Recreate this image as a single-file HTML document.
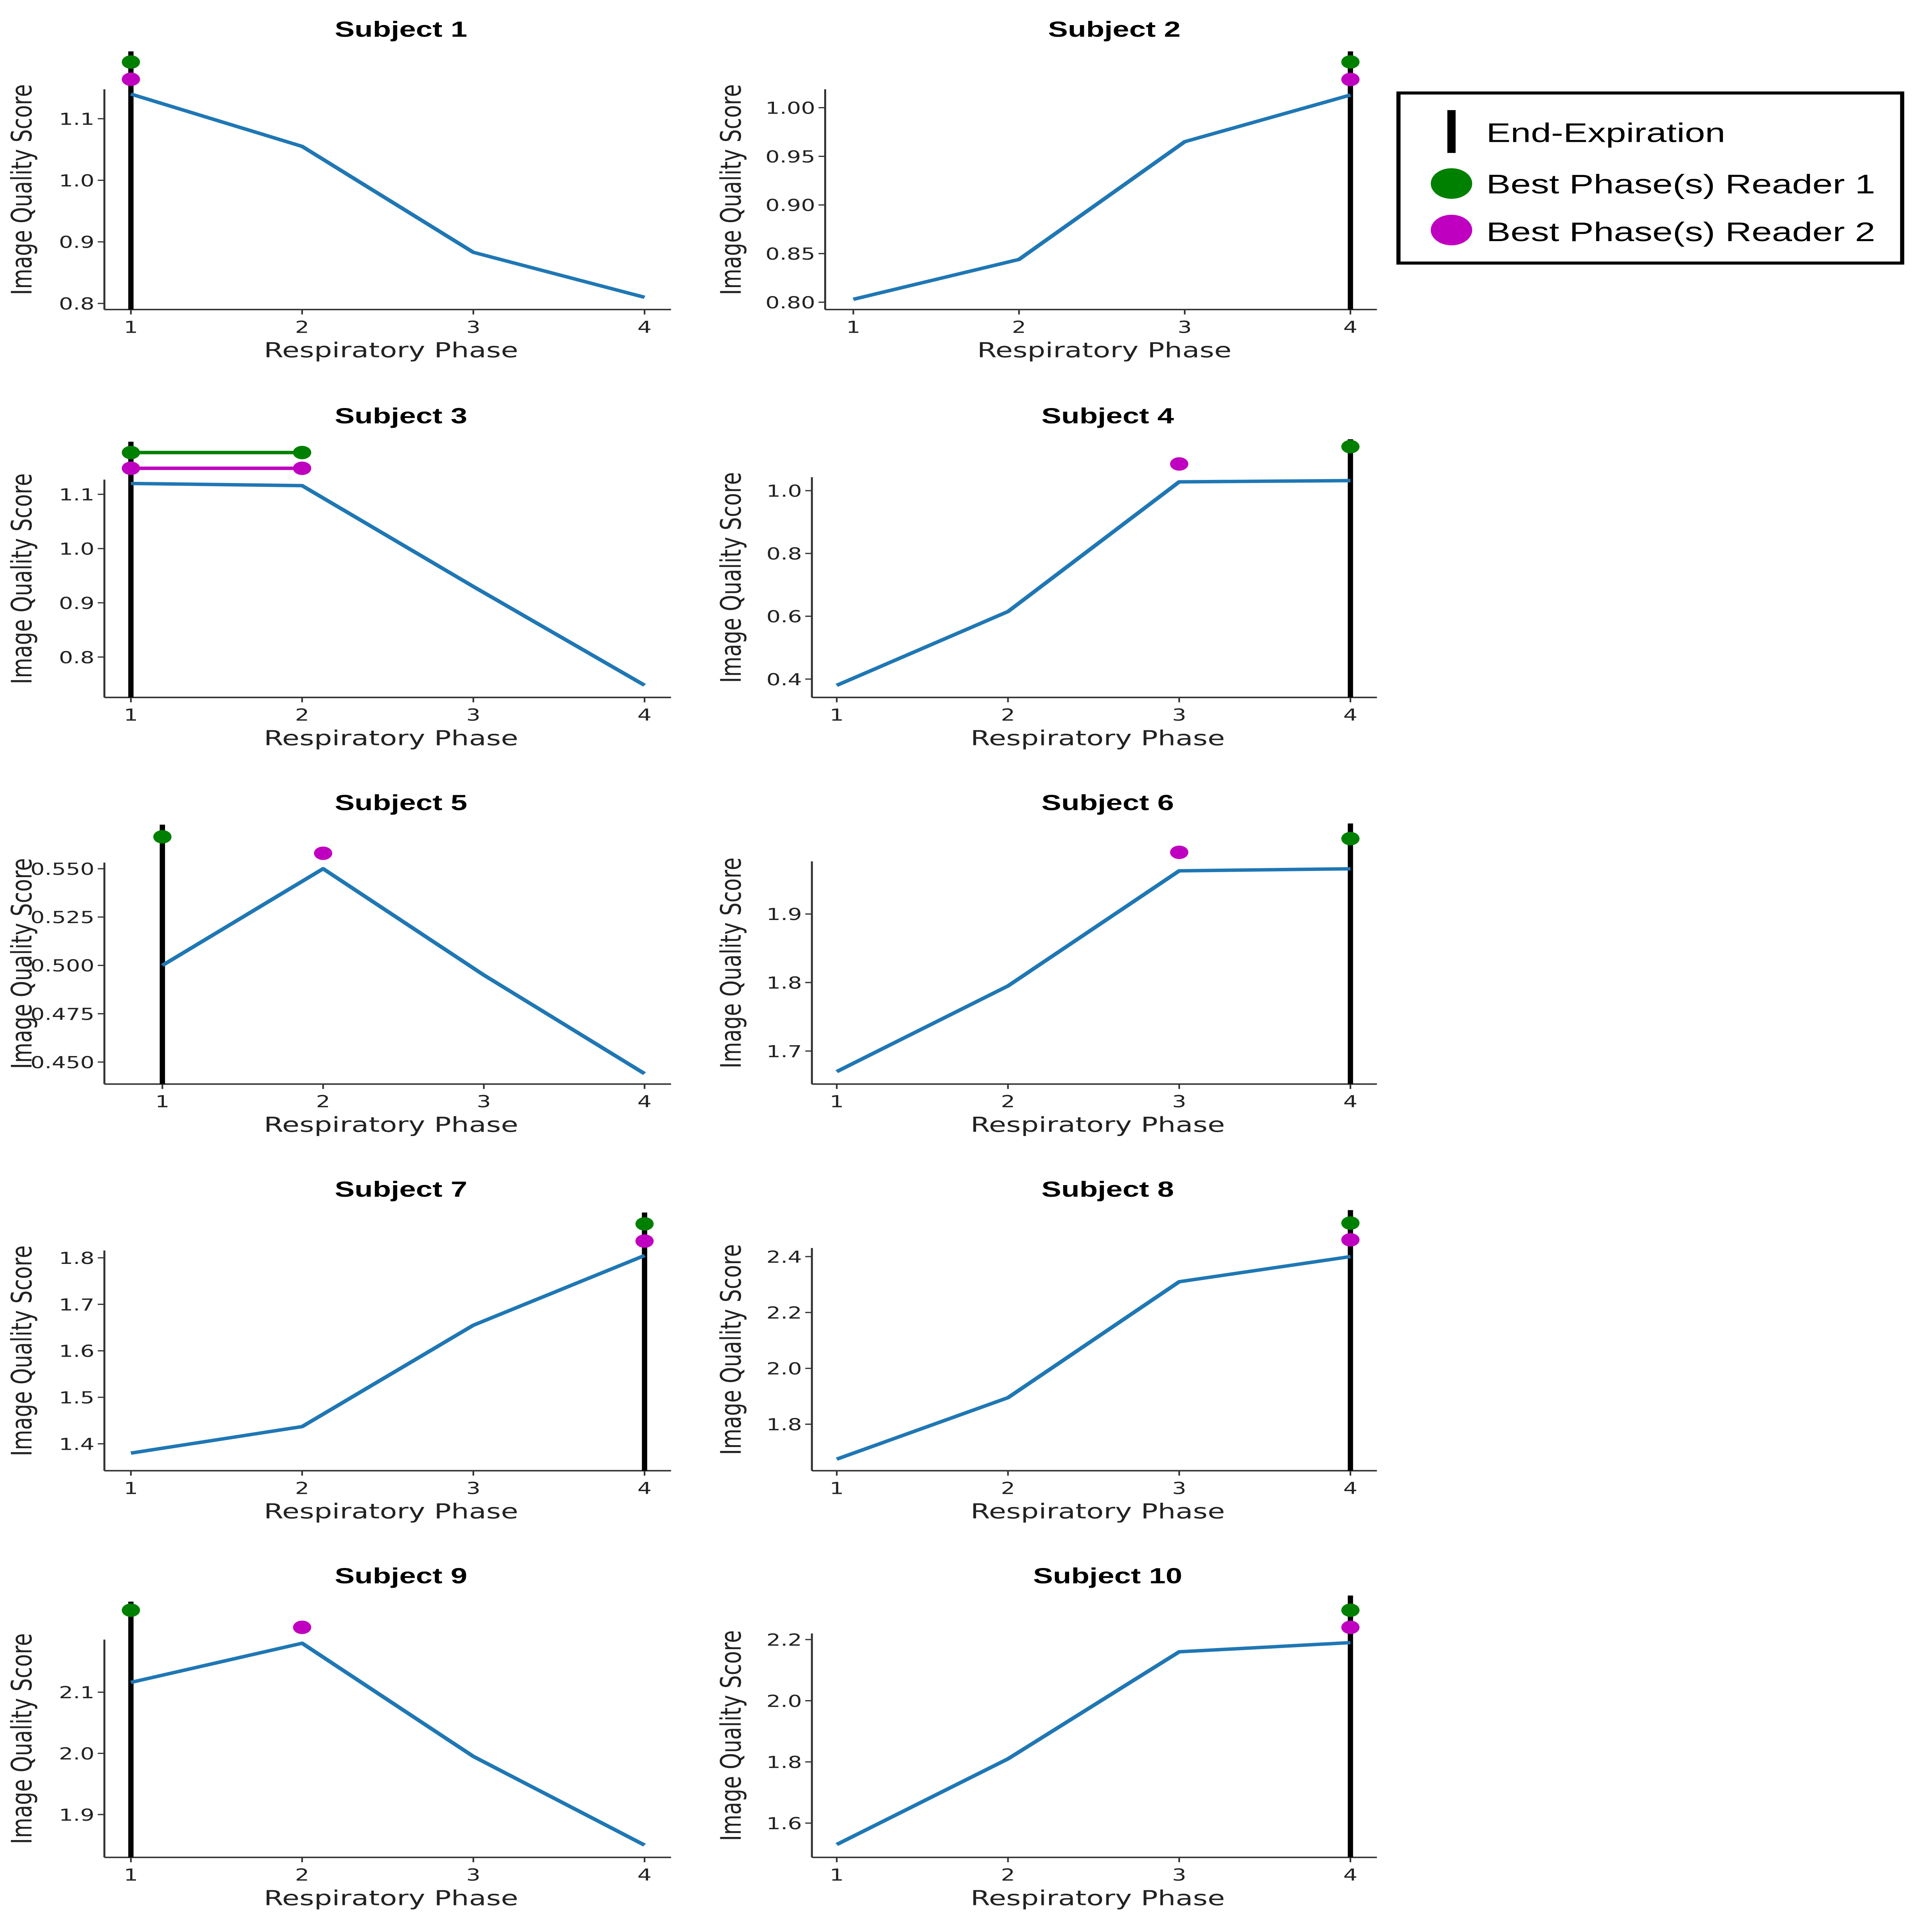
<!DOCTYPE html>
<html><head><meta charset="utf-8">
<style>
html,body{margin:0;padding:0;background:#fff;width:100%;height:100%;overflow:hidden;}
svg{display:block;width:100vw;height:100vh;}
text{font-family:"Liberation Sans",sans-serif;}
.dv{font-family:"DejaVu Sans","Liberation Sans",sans-serif;}
</style></head>
<body>
<svg id="fig" viewBox="0 0 1166 1579" preserveAspectRatio="none" xmlns="http://www.w3.org/2000/svg">
<g id="legend">
<rect x="844" y="76" width="304" height="139" fill="#fff" stroke="#000" stroke-width="2.5"/>
<rect x="873.5" y="90" width="5" height="35" fill="#000"/>
<text x="897" y="116" font-size="22">End-Expiration</text>
<ellipse cx="876" cy="150" rx="12.5" ry="12.5" fill="#008000"/>
<text x="897" y="158" font-size="22">Best Phase(s) Reader 1</text>
<ellipse cx="876" cy="188" rx="12.5" ry="12.5" fill="#c000c0"/>
<text x="897" y="197" font-size="22">Best Phase(s) Reader 2</text>
</g>
</svg>
<script>
const phases = [1, 2, 3, 4];
const s1 = [1.14, 1.055, 0.883, 0.81];
const s2 = [0.803, 0.844, 0.965, 1.013];
const s3 = [1.12, 1.116, 0.93, 0.748];
const s4 = [0.38, 0.615, 1.028, 1.032];
const s5 = [0.500, 0.550, 0.495, 0.444];
const s6 = [1.67, 1.795, 1.963, 1.966];
const s7 = [1.38, 1.437, 1.655, 1.805];
const s8 = [1.675, 1.895, 2.31, 2.40];
const s9 = [2.116, 2.18, 1.995, 1.85];
const s10 = [1.53, 1.81, 2.16, 2.19];
const seriesList = [s1, s2, s3, s4, s5, s6, s7, s8, s9, s10];
const ticks1 = ["0.8", "0.9", "1.0", "1.1"];
const ticks2 = ["0.80", "0.85", "0.90", "0.95", "1.00"];
const ticks3 = ["0.8", "0.9", "1.0", "1.1"];
const ticks4 = ["0.4", "0.6", "0.8", "1.0"];
const ticks5 = ["0.450", "0.475", "0.500", "0.525", "0.550"];
const ticks6 = ["1.7", "1.8", "1.9"];
const ticks7 = ["1.4", "1.5", "1.6", "1.7", "1.8"];
const ticks8 = ["1.8", "2.0", "2.2", "2.4"];
const ticks9 = ["1.9", "2.0", "2.1"];
const ticks10 = ["1.6", "1.8", "2.0", "2.2"];
const tickList = [ticks1, ticks2, ticks3, ticks4, ticks5, ticks6, ticks7, ticks8, ticks9, ticks10];
const endExp = [1, 4, 1, 4, 1, 4, 4, 4, 1, 4];
const reader1Phases = [[1], [4], [1, 2], [4], [1], [4], [4], [4], [1], [4]];
const reader1Values = [1.192, 1.047, 1.177, 1.14, 0.5665, 2.01, 1.873, 2.52, 2.234, 2.296];
const reader2Phases = [[1], [4], [1, 2], [3], [2], [3], [4], [4], [2], [4]];
const reader2Values = [1.164, 1.029, 1.148, 1.085, 0.558, 1.99, 1.836, 2.46, 2.206, 2.24];

const layout = [
 {ax:63, x1:79, x4:389, right:405, top:73, bot:253, yv:[0.8,1.1], yp:[248,97], row:0},
 {ax:498, x1:515, x4:815, right:831, top:73, bot:253, yv:[0.8,1.0], yp:[247,88], row:0},
 {ax:63, x1:79, x4:389, right:405, top:392, bot:570, yv:[0.8,1.1], yp:[537,404], row:1},
 {ax:490, x1:505, x4:815, right:831, top:390, bot:570, yv:[0.4,1.0], yp:[555,401], row:1},
 {ax:63, x1:98, x4:389, right:405, top:705, bot:886, yv:[0.45,0.55], yp:[868,710], row:2},
 {ax:490, x1:505, x4:815, right:831, top:704, bot:886, yv:[1.7,1.9], yp:[859,747], row:2},
 {ax:63, x1:79, x4:389, right:405, top:1022, bot:1202, yv:[1.4,1.8], yp:[1180,1028], row:3},
 {ax:490, x1:505, x4:815, right:831, top:1020, bot:1202, yv:[1.8,2.4], yp:[1164,1027], row:3},
 {ax:63, x1:79, x4:389, right:405, top:1340, bot:1518, yv:[1.9,2.1], yp:[1483,1383], row:4},
 {ax:490, x1:505, x4:815, right:831, top:1335, bot:1518, yv:[1.6,2.2], yp:[1490,1340], row:4}
];
const svg = document.getElementById('fig');
const NS = 'http://www.w3.org/2000/svg';
function mk(tag, attrs, parent){
  const e = document.createElementNS(NS, tag);
  for (const k in attrs) e.setAttribute(k, attrs[k]);
  parent.appendChild(e);
  return e;
}
seriesList.forEach((vals, i) => {
  const L = layout[i];
  const n = i + 1;
  const xs = p => L.x1 + (p - 1) * (L.x4 - L.x1) / 3;
  const ys = v => L.yp[0] + (v - L.yv[0]) * (L.yp[1] - L.yp[0]) / (L.yv[1] - L.yv[0]);
  const g = mk('g', {}, svg);
  
  
  const rowOff = L.row * 316;
  const cx = (L.ax + L.right) / 2 + 8;
  const title = mk('text', {x: cx, y: 30 + rowOff, 'font-size': 18, 'font-weight': 'bold', 'text-anchor': 'middle'}, g);
  title.textContent = 'Subject ' + n;
  
  
  const yAx = mk('line', {x1: L.ax, y1: L.top, x2: L.ax, y2: L.bot, stroke: '#333', 'stroke-width': 1.2}, g);
  
  
  const xAx = mk('line', {x1: L.ax, y1: L.bot, x2: L.right, y2: L.bot, stroke: '#333', 'stroke-width': 1.2}, g);
  
  
  phases.forEach(p => {
    const t = mk('line', {x1: xs(p), y1: L.bot, x2: xs(p), y2: L.bot + 4, stroke: '#333', 'stroke-width': 1}, g);
    
    
    const tl = mk('text', {class: 'dv', x: xs(p), y: L.bot + 19, 'font-size': 13.5, 'text-anchor': 'middle', fill: '#222'}, g);
    tl.textContent = p;
    
    
  });
  tickList[i].forEach(s => {
    const y = ys(parseFloat(s));
    const t = mk('line', {x1: L.ax - 4, y1: y, x2: L.ax, y2: y, stroke: '#333', 'stroke-width': 1}, g);
    
    
    const tl = mk('text', {class: 'dv', x: L.ax - 6, y: y + 5, 'font-size': 13.5, 'text-anchor': 'end', fill: '#222'}, g);
    tl.textContent = s;
    
    
  });
  const xl = mk('text', {class: 'dv', x: (L.ax + L.right) / 2 + 2, y: L.bot + 39, 'font-size': 17, 'text-anchor': 'middle', fill: '#222'}, g);
  xl.textContent = 'Respiratory Phase';
  
  
  const ylx = (i % 2 === 0) ? 19 : 447;
  const ylyc = (L.top + L.bot) / 2 - 8;
  const yl = mk('text', {class: 'dv', x: ylx, y: ylyc, 'font-size': 17, 'text-anchor': 'middle', fill: '#222', transform: 'rotate(-90 ' + ylx + ' ' + ylyc + ')'}, g);
  yl.textContent = 'Image Quality Score';
  
  
  const ex = xs(endExp[i]);
  const el = mk('line', {x1: ex, y1: L.top - 31, x2: ex, y2: L.bot, stroke: '#000', 'stroke-width': 3.2}, g);
  
  
  const pts = vals.map((v, k) => xs(phases[k]).toFixed(2) + ',' + ys(v).toFixed(2)).join(' ');
  const pl = mk('polyline', {points: pts, fill: 'none', stroke: '#1f77b4', 'stroke-width': 2.8, 'stroke-linejoin': 'round'}, g);
  
  
  [[reader1Phases[i], reader1Values[i], '#008000', 'reader-1'], [reader2Phases[i], reader2Values[i], '#c000c0', 'reader-2']].forEach(([ph, v, col, nm]) => {
    const y = ys(v);
    if (ph.length > 1) {
      const ln = mk('line', {x1: xs(ph[0]), y1: y, x2: xs(ph[ph.length - 1]), y2: y, stroke: col, 'stroke-width': 2.8}, g);
      
      
    }
    ph.forEach(p => {
      const c = mk('circle', {cx: xs(p), cy: y, r: 5.5, fill: col}, g);
      
      
    });
  });
});
</script>
</body></html>
